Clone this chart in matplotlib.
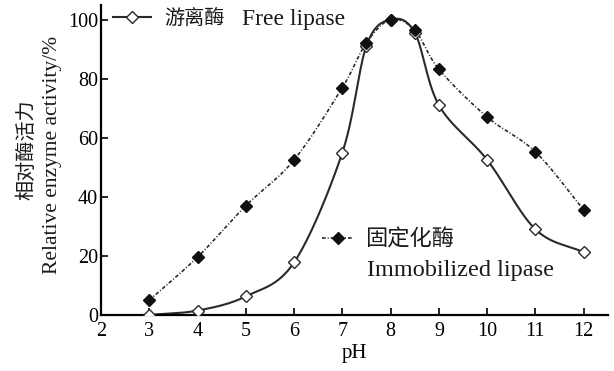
import numpy as np
import matplotlib
matplotlib.use("Agg")
import matplotlib.pyplot as plt
from matplotlib.lines import Line2D

plt.rcParams["font.family"] = ["Liberation Serif", "Noto Sans CJK SC"]
plt.rcParams["text.color"] = "#1a1a1a"

ph = [3, 4, 5, 6, 7, 7.5, 8, 8.5, 9, 10, 11, 12]
free_activity = [0, 1.5, 6.3, 17.8, 55, 91.2, 100, 95.6, 71, 52.5, 29, 21.2]
immob_activity = [5, 19.6, 37, 52.5, 77, 92.2, 100, 96.4, 83.2, 67, 55.2, 35.6]


def smooth(x, y, n=30):
    # Catmull-Rom curve through every point, ends extended linearly
    x = np.asarray(x, float)
    y = np.asarray(y, float)
    px = np.concatenate([[2 * x[0] - x[1]], x, [2 * x[-1] - x[-2]]])
    py = np.concatenate([[2 * y[0] - y[1]], y, [2 * y[-1] - y[-2]]])
    xs, ys = [], []
    t = np.linspace(0, 1, n, endpoint=False)
    for i in range(1, len(px) - 2):
        for p, out in ((px, xs), (py, ys)):
            p0, p1, p2, p3 = p[i - 1], p[i], p[i + 1], p[i + 2]
            out.append(0.5 * (2 * p1 + (-p0 + p2) * t
                              + (2 * p0 - 5 * p1 + 4 * p2 - p3) * t ** 2
                              + (-p0 + 3 * p1 - 3 * p2 + p3) * t ** 3))
    xs.append([x[-1]])
    ys.append([y[-1]])
    return np.concatenate(xs), np.concatenate(ys)


fig = plt.figure(figsize=(6.14, 3.71), dpi=100)
ax = fig.add_axes([0.1645, 0.151, 0.8255, 0.836])

line_col = "#2a2a2a"
dash = (0, (2.2, 1.2, 0.6, 1.2))
ms = 6.2

sx, sy = smooth(ph, immob_activity)
ax.plot(sx, sy, color=line_col, lw=1.2, linestyle=dash, zorder=2)
ax.plot(ph, immob_activity, "D", ms=ms, color="#111111", mec="#111111", zorder=4)

sx, sy = smooth(ph, free_activity)
ax.plot(sx, sy, color=line_col, lw=1.5, zorder=2)
ax.plot(ph, free_activity, "D", ms=ms, mfc="white", mec=line_col, mew=1.0, zorder=3)

ax.set_xlim(2, 12.5)
ax.set_ylim(0, 105)
ax.set_xticks(range(2, 13))
ax.set_yticks(range(0, 101, 20))
for s in ("top", "right"):
    ax.spines[s].set_visible(False)
for s in ("left", "bottom"):
    ax.spines[s].set_linewidth(1.6)
ax.tick_params(axis="x", direction="in", length=5, width=1.2, labelsize=14.5, pad=5)
ax.tick_params(axis="y", direction="in", length=5, width=1.2, labelsize=14.5, pad=2)

ax.set_xlabel("pH", fontsize=15, labelpad=2)
fig.text(0.0456, 0.596, "相对酶活力", rotation=90, ha="center", va="center", fontsize=14.5)
fig.text(0.085, 0.582, "Relative enzyme activity/%", rotation=90, ha="center",
         va="center", fontsize=15.5)

free_handle = Line2D([], [], color=line_col, lw=1.5, marker="D", ms=ms,
                     mfc="white", mec=line_col)
immob_handle = Line2D([], [], color=line_col, lw=1.2, linestyle=dash, marker="D",
                      ms=ms, mfc="#111111", mec="#111111")

leg1 = ax.legend([free_handle], ["游离酶"], loc="center left",
                 bbox_to_anchor=(0.0237, 0.9516), frameon=False, fontsize=14.5,
                 handlelength=1.9, handletextpad=0.62, borderpad=0, borderaxespad=0)
ax.add_artist(leg1)
ax.text(0.278, 0.9516, "Free lipase", transform=ax.transAxes, ha="left",
        va="center", fontsize=17)

ax.legend([immob_handle], ["固定化酶"], loc="center left",
          bbox_to_anchor=(0.436, 0.242), frameon=False, fontsize=16,
          handlelength=1.4, handletextpad=0.54, borderpad=0, borderaxespad=0)
ax.text(0.5247, 0.145, "Immobilized lipase", transform=ax.transAxes, ha="left",
        va="center", fontsize=17.5)

fig.savefig("out.png", dpi=100, facecolor="white")
